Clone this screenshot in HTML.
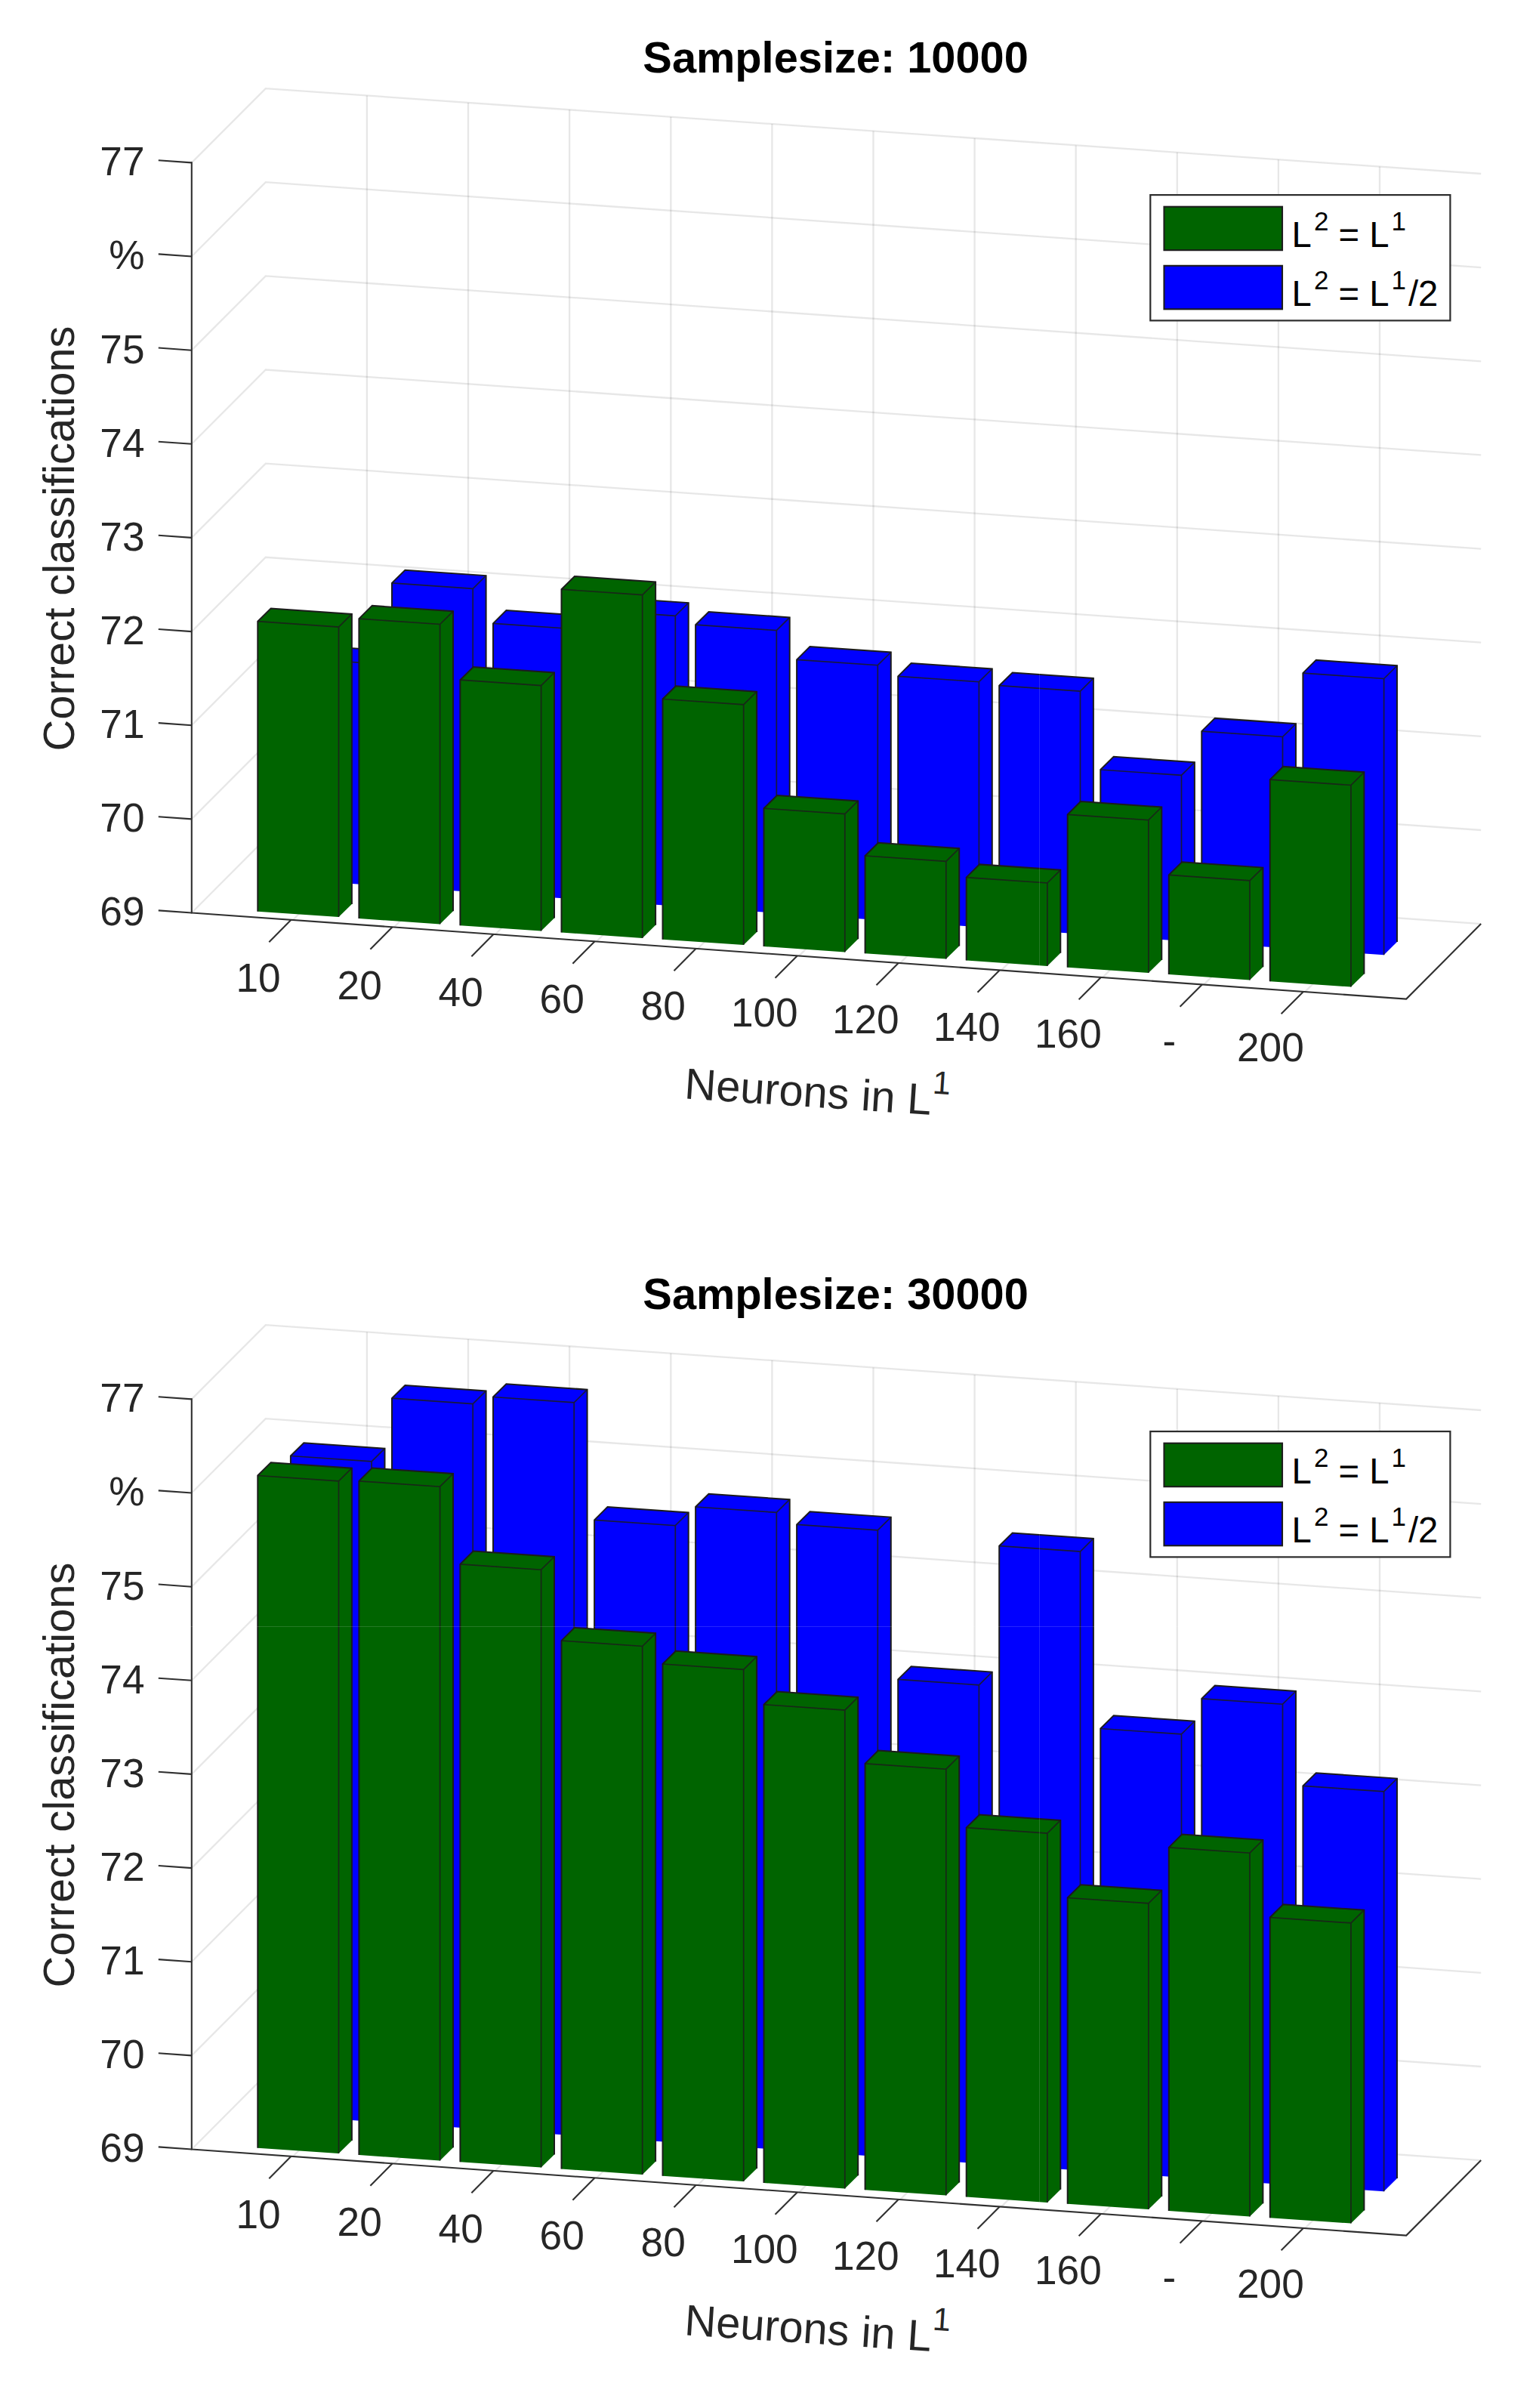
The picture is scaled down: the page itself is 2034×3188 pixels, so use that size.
<!DOCTYPE html>
<html lang="en"><head><meta charset="utf-8"><title>Samplesize bar charts</title>
<style>html,body{margin:0;padding:0;background:#fff}body{width:2034px;height:3188px;overflow:hidden}svg{display:block}text{font-family:"Liberation Sans",sans-serif}</style></head><body>
<svg width="2034" height="3188" viewBox="0 0 2034 3188">
<rect width="2034" height="3188" fill="#fff"/>
<g>
<g stroke="#262626" stroke-opacity="0.11" stroke-width="2.3" fill="none">
<polyline points="253.8,1208.5 351.8,1110.2 1961.2,1223.1"/>
<polyline points="253.8,1084.4 351.8,986.1 1961.2,1099"/>
<polyline points="253.8,960.2 351.8,861.9 1961.2,974.8"/>
<polyline points="253.8,836.1 351.8,737.8 1961.2,850.7"/>
<polyline points="253.8,711.9 351.8,613.6 1961.2,726.6"/>
<polyline points="253.8,587.8 351.8,489.5 1961.2,602.4"/>
<polyline points="253.8,463.7 351.8,365.4 1961.2,478.3"/>
<polyline points="253.8,339.5 351.8,241.2 1961.2,354.1"/>
<polyline points="253.8,215.4 351.8,117.1 1961.2,230"/>
<polyline points="387.8,1218 485.9,1119.6 485.9,126.5"/>
<polyline points="521.9,1227.5 620,1129 620,135.9"/>
<polyline points="655.9,1237 754.1,1138.4 754.1,145.3"/>
<polyline points="789.9,1246.5 888.3,1147.8 888.3,154.7"/>
<polyline points="924,1256 1022.4,1157.2 1022.4,164.1"/>
<polyline points="1058,1265.6 1156.5,1166.7 1156.5,173.5"/>
<polyline points="1192,1275.1 1290.6,1176.1 1290.6,182.9"/>
<polyline points="1326,1284.6 1424.7,1185.5 1424.7,192.4"/>
<polyline points="1460.1,1294.1 1558.8,1194.9 1558.8,201.8"/>
<polyline points="1594.1,1303.6 1692.9,1204.3 1692.9,211.2"/>
<polyline points="1728.1,1313.1 1827,1213.7 1827,220.6"/>
</g>
<g stroke="#1c1c1c" stroke-width="2.0" fill="none" stroke-linejoin="miter" stroke-linecap="butt">
<polygon stroke="none" fill="#0000ff" points="384.9,1164.4 384.9,870.9 402.3,853.7 509.5,861.1 509.5,1154.6 492.1,1171.8"/>
<path d="M384.9,1164.4 L384.9,870.9 L402.3,853.7 L509.5,861.1 L509.5,1154.6"/>
<path stroke-width="1.7" stroke-opacity="0.85" d="M384.9,870.9 L492.1,878.3 L492.1,1171.8 M492.1,878.3 L509.5,861.1"/>
<polygon stroke="none" fill="#0000ff" points="519,1173.7 519,771.9 536.4,754.7 643.6,762.1 643.6,1163.9 626.2,1181.1"/>
<path d="M519,1173.7 L519,771.9 L536.4,754.7 L643.6,762.1 L643.6,1163.9"/>
<path stroke-width="1.7" stroke-opacity="0.85" d="M519,771.9 L626.2,779.3 L626.2,1181.1 M626.2,779.3 L643.6,762.1"/>
<polygon stroke="none" fill="#0000ff" points="653,1182.9 653,825.3 670.4,808.1 777.6,815.5 777.6,1173.1 760.2,1190.3"/>
<path d="M653,1182.9 L653,825.3 L670.4,808.1 L777.6,815.5 L777.6,1173.1"/>
<path stroke-width="1.7" stroke-opacity="0.85" d="M653,825.3 L760.2,832.7 L760.2,1190.3 M760.2,832.7 L777.6,815.5"/>
<polygon stroke="none" fill="#0000ff" points="787.1,1192.2 787.1,807.9 804.5,790.7 911.7,798.1 911.7,1182.4 894.3,1199.6"/>
<path d="M787.1,1192.2 L787.1,807.9 L804.5,790.7 L911.7,798.1 L911.7,1182.4"/>
<path stroke-width="1.7" stroke-opacity="0.85" d="M787.1,807.9 L894.3,815.3 L894.3,1199.6 M894.3,815.3 L911.7,798.1"/>
<polygon stroke="none" fill="#0000ff" points="921.1,1201.4 921.1,827.2 938.5,810 1045.7,817.4 1045.7,1191.6 1028.3,1208.8"/>
<path d="M921.1,1201.4 L921.1,827.2 L938.5,810 L1045.7,817.4 L1045.7,1191.6"/>
<path stroke-width="1.7" stroke-opacity="0.85" d="M921.1,827.2 L1028.3,834.6 L1028.3,1208.8 M1028.3,834.6 L1045.7,817.4"/>
<polygon stroke="none" fill="#0000ff" points="1055.1,1210.7 1055.1,873.3 1072.5,856.1 1179.8,863.5 1179.8,1200.9 1162.3,1218.1"/>
<path d="M1055.1,1210.7 L1055.1,873.3 L1072.5,856.1 L1179.8,863.5 L1179.8,1200.9"/>
<path stroke-width="1.7" stroke-opacity="0.85" d="M1055.1,873.3 L1162.3,880.7 L1162.3,1218.1 M1162.3,880.7 L1179.8,863.5"/>
<polygon stroke="none" fill="#0000ff" points="1189.2,1219.9 1189.2,895.3 1206.6,878.1 1313.8,885.5 1313.8,1210.1 1296.4,1227.3"/>
<path d="M1189.2,1219.9 L1189.2,895.3 L1206.6,878.1 L1313.8,885.5 L1313.8,1210.1"/>
<path stroke-width="1.7" stroke-opacity="0.85" d="M1189.2,895.3 L1296.4,902.7 L1296.4,1227.3 M1296.4,902.7 L1313.8,885.5"/>
<polygon stroke="none" fill="#0000ff" points="1323.2,1229.2 1323.2,907.7 1340.7,890.5 1447.9,897.9 1447.9,1219.4 1430.5,1236.6"/>
<path d="M1323.2,1229.2 L1323.2,907.7 L1340.7,890.5 L1447.9,897.9 L1447.9,1219.4"/>
<path stroke-width="1.7" stroke-opacity="0.85" d="M1323.2,907.7 L1430.5,915.1 L1430.5,1236.6 M1430.5,915.1 L1447.9,897.9"/>
<polygon stroke="none" fill="#0000ff" points="1457.3,1238.4 1457.3,1019 1474.7,1001.8 1581.9,1009.2 1581.9,1228.6 1564.5,1245.8"/>
<path d="M1457.3,1238.4 L1457.3,1019 L1474.7,1001.8 L1581.9,1009.2 L1581.9,1228.6"/>
<path stroke-width="1.7" stroke-opacity="0.85" d="M1457.3,1019 L1564.5,1026.4 L1564.5,1245.8 M1564.5,1026.4 L1581.9,1009.2"/>
<polygon stroke="none" fill="#0000ff" points="1591.3,1247.7 1591.3,968.1 1608.8,950.9 1716,958.3 1716,1237.9 1698.5,1255.1"/>
<path d="M1591.3,1247.7 L1591.3,968.1 L1608.8,950.9 L1716,958.3 L1716,1237.9"/>
<path stroke-width="1.7" stroke-opacity="0.85" d="M1591.3,968.1 L1698.5,975.5 L1698.5,1255.1 M1698.5,975.5 L1716,958.3"/>
<polygon stroke="none" fill="#0000ff" points="1725.4,1256.9 1725.4,891.1 1742.8,873.9 1850,881.3 1850,1247.1 1832.6,1264.3"/>
<path d="M1725.4,1256.9 L1725.4,891.1 L1742.8,873.9 L1850,881.3 L1850,1247.1"/>
<path stroke-width="1.7" stroke-opacity="0.85" d="M1725.4,891.1 L1832.6,898.5 L1832.6,1264.3 M1832.6,898.5 L1850,881.3"/>
<polygon stroke="none" fill="#006400" points="341.3,1206.7 341.3,822.7 358.7,805.5 465.9,812.9 465.9,1196.9 448.5,1214.1"/>
<path d="M341.3,1206.7 L341.3,822.7 L358.7,805.5 L465.9,812.9 L465.9,1196.9"/>
<path stroke-width="1.7" stroke-opacity="0.85" d="M341.3,822.7 L448.5,830.1 L448.5,1214.1 M448.5,830.1 L465.9,812.9"/>
<polygon stroke="none" fill="#006400" points="475.4,1216 475.4,819.1 492.8,801.9 600,809.3 600,1206.2 582.6,1223.4"/>
<path d="M475.4,1216 L475.4,819.1 L492.8,801.9 L600,809.3 L600,1206.2"/>
<path stroke-width="1.7" stroke-opacity="0.85" d="M475.4,819.1 L582.6,826.5 L582.6,1223.4 M582.6,826.5 L600,809.3"/>
<polygon stroke="none" fill="#006400" points="609.4,1225.2 609.4,900.2 626.8,883 734,890.4 734,1215.4 716.6,1232.6"/>
<path d="M609.4,1225.2 L609.4,900.2 L626.8,883 L734,890.4 L734,1215.4"/>
<path stroke-width="1.7" stroke-opacity="0.85" d="M609.4,900.2 L716.6,907.6 L716.6,1232.6 M716.6,907.6 L734,890.4"/>
<polygon stroke="none" fill="#006400" points="743.5,1234.5 743.5,780.2 760.9,763 868.1,770.4 868.1,1224.7 850.7,1241.9"/>
<path d="M743.5,1234.5 L743.5,780.2 L760.9,763 L868.1,770.4 L868.1,1224.7"/>
<path stroke-width="1.7" stroke-opacity="0.85" d="M743.5,780.2 L850.7,787.6 L850.7,1241.9 M850.7,787.6 L868.1,770.4"/>
<polygon stroke="none" fill="#006400" points="877.5,1243.7 877.5,925.5 894.9,908.3 1002.1,915.7 1002.1,1233.9 984.7,1251.1"/>
<path d="M877.5,1243.7 L877.5,925.5 L894.9,908.3 L1002.1,915.7 L1002.1,1233.9"/>
<path stroke-width="1.7" stroke-opacity="0.85" d="M877.5,925.5 L984.7,932.9 L984.7,1251.1 M984.7,932.9 L1002.1,915.7"/>
<polygon stroke="none" fill="#006400" points="1011.5,1253 1011.5,1070.2 1029,1053 1136.2,1060.4 1136.2,1243.2 1118.8,1260.4"/>
<path d="M1011.5,1253 L1011.5,1070.2 L1029,1053 L1136.2,1060.4 L1136.2,1243.2"/>
<path stroke-width="1.7" stroke-opacity="0.85" d="M1011.5,1070.2 L1118.8,1077.6 L1118.8,1260.4 M1118.8,1077.6 L1136.2,1060.4"/>
<polygon stroke="none" fill="#006400" points="1145.6,1262.2 1145.6,1133 1163,1115.8 1270.2,1123.2 1270.2,1252.4 1252.8,1269.6"/>
<path d="M1145.6,1262.2 L1145.6,1133 L1163,1115.8 L1270.2,1123.2 L1270.2,1252.4"/>
<path stroke-width="1.7" stroke-opacity="0.85" d="M1145.6,1133 L1252.8,1140.4 L1252.8,1269.6 M1252.8,1140.4 L1270.2,1123.2"/>
<polygon stroke="none" fill="#006400" points="1279.7,1271.5 1279.7,1161.6 1297.1,1144.4 1404.3,1151.8 1404.3,1261.7 1386.9,1278.9"/>
<path d="M1279.7,1271.5 L1279.7,1161.6 L1297.1,1144.4 L1404.3,1151.8 L1404.3,1261.7"/>
<path stroke-width="1.7" stroke-opacity="0.85" d="M1279.7,1161.6 L1386.9,1169 L1386.9,1278.9 M1386.9,1169 L1404.3,1151.8"/>
<polygon stroke="none" fill="#006400" points="1413.7,1280.7 1413.7,1078.3 1431.1,1061.1 1538.3,1068.5 1538.3,1270.9 1520.9,1288.1"/>
<path d="M1413.7,1280.7 L1413.7,1078.3 L1431.1,1061.1 L1538.3,1068.5 L1538.3,1270.9"/>
<path stroke-width="1.7" stroke-opacity="0.85" d="M1413.7,1078.3 L1520.9,1085.7 L1520.9,1288.1 M1520.9,1085.7 L1538.3,1068.5"/>
<polygon stroke="none" fill="#006400" points="1547.8,1290 1547.8,1158.4 1565.2,1141.2 1672.4,1148.6 1672.4,1280.2 1655,1297.4"/>
<path d="M1547.8,1290 L1547.8,1158.4 L1565.2,1141.2 L1672.4,1148.6 L1672.4,1280.2"/>
<path stroke-width="1.7" stroke-opacity="0.85" d="M1547.8,1158.4 L1655,1165.8 L1655,1297.4 M1655,1165.8 L1672.4,1148.6"/>
<polygon stroke="none" fill="#006400" points="1681.8,1299.2 1681.8,1032.1 1699.2,1014.9 1806.4,1022.3 1806.4,1289.4 1789,1306.6"/>
<path d="M1681.8,1299.2 L1681.8,1032.1 L1699.2,1014.9 L1806.4,1022.3 L1806.4,1289.4"/>
<path stroke-width="1.7" stroke-opacity="0.85" d="M1681.8,1032.1 L1789,1039.5 L1789,1306.6 M1789,1039.5 L1806.4,1022.3"/>
</g>
<g stroke="#303030" stroke-width="2.1" fill="none" stroke-linecap="butt">
<polyline points="253.8,214.2 253.8,1208.5 1862.2,1322.6 1961.2,1223.1"/>
<line x1="253.8" y1="1208.5" x2="209.8" y2="1205.4"/>
<line x1="253.8" y1="1084.4" x2="209.8" y2="1081.2"/>
<line x1="253.8" y1="960.2" x2="209.8" y2="957.1"/>
<line x1="253.8" y1="836.1" x2="209.8" y2="833"/>
<line x1="253.8" y1="711.9" x2="209.8" y2="708.8"/>
<line x1="253.8" y1="587.8" x2="209.8" y2="584.7"/>
<line x1="253.8" y1="463.7" x2="209.8" y2="460.5"/>
<line x1="253.8" y1="339.5" x2="209.8" y2="336.4"/>
<line x1="253.8" y1="215.4" x2="209.8" y2="212.3"/>
<line x1="385.5" y1="1217.8" x2="356.3" y2="1247.2"/>
<line x1="519.6" y1="1227.3" x2="490.4" y2="1256.7"/>
<line x1="653.6" y1="1236.8" x2="624.4" y2="1266.2"/>
<line x1="787.6" y1="1246.3" x2="758.4" y2="1275.7"/>
<line x1="921.7" y1="1255.8" x2="892.5" y2="1285.2"/>
<line x1="1055.7" y1="1265.4" x2="1026.5" y2="1294.8"/>
<line x1="1189.7" y1="1274.9" x2="1160.5" y2="1304.3"/>
<line x1="1323.7" y1="1284.4" x2="1294.5" y2="1313.8"/>
<line x1="1457.8" y1="1293.9" x2="1428.6" y2="1323.3"/>
<line x1="1591.8" y1="1303.4" x2="1562.6" y2="1332.8"/>
<line x1="1725.8" y1="1312.9" x2="1696.6" y2="1342.3"/>
</g>
<g fill="#262626" font-size="53.2">
<text x="191.5" y="1225.4" text-anchor="end">69</text>
<text x="191.5" y="1101.3" text-anchor="end">70</text>
<text x="191.5" y="977.1" text-anchor="end">71</text>
<text x="191.5" y="853" text-anchor="end">72</text>
<text x="191.5" y="728.8" text-anchor="end">73</text>
<text x="191.5" y="604.7" text-anchor="end">74</text>
<text x="191.5" y="480.6" text-anchor="end">75</text>
<text x="191.5" y="356.4" text-anchor="end">%</text>
<text x="191.5" y="232.3" text-anchor="end">77</text>
<text x="342.1" y="1313.4" text-anchor="middle">10</text>
<text x="476.2" y="1322.6" text-anchor="middle">20</text>
<text x="610.2" y="1331.7" text-anchor="middle">40</text>
<text x="744.2" y="1340.9" text-anchor="middle">60</text>
<text x="878.2" y="1350.1" text-anchor="middle">80</text>
<text x="1012.3" y="1359.2" text-anchor="middle">100</text>
<text x="1146.3" y="1368.4" text-anchor="middle">120</text>
<text x="1280.3" y="1377.6" text-anchor="middle">140</text>
<text x="1414.4" y="1386.8" text-anchor="middle">160</text>
<text x="1548.4" y="1395.9" text-anchor="middle">-</text>
<text x="1682.4" y="1405.1" text-anchor="middle">200</text>
</g>
<text x="1106.6" y="96.1" text-anchor="middle" font-size="57.75" font-weight="bold" fill="#000">Samplesize: 10000</text>
<text transform="translate(98.3,713) rotate(-90)" text-anchor="middle" font-size="57.9" fill="#262626">Correct classifications</text>
<text transform="translate(905.6,1454.3) rotate(3.8)" font-size="57.75" fill="#262626">Neurons in L<tspan dy="-28.5" font-size="43">1</tspan></text>
<rect x="1523.3" y="258.1" width="397.1" height="166.3" fill="#fff" stroke="#2c2c2c" stroke-width="2.2"/>
<rect x="1541.5" y="273.7" width="156.5" height="57.5" fill="#006400" stroke="#1c1c1c" stroke-width="2.1"/>
<rect x="1541.5" y="351.8" width="156.5" height="57.5" fill="#0000ff" stroke="#1c1c1c" stroke-width="2.1"/>
<g fill="#000" font-size="47.25">
<text x="1710.6" y="326.8">L<tspan dy="-21.5" dx="3" font-size="35">2</tspan><tspan dy="21.5"> = L</tspan><tspan dy="-21.5" dx="3" font-size="35">1</tspan></text>
<text x="1710.6" y="404.9">L<tspan dy="-21.5" dx="3" font-size="35">2</tspan><tspan dy="21.5"> = L</tspan><tspan dy="-21.5" dx="3" font-size="35">1</tspan><tspan dy="21.5" dx="3">/2</tspan></text>
</g>
</g>
<g transform="translate(0,1637)">
<g stroke="#262626" stroke-opacity="0.11" stroke-width="2.3" fill="none">
<polyline points="253.8,1208.5 351.8,1110.2 1961.2,1223.1"/>
<polyline points="253.8,1084.4 351.8,986.1 1961.2,1099"/>
<polyline points="253.8,960.2 351.8,861.9 1961.2,974.8"/>
<polyline points="253.8,836.1 351.8,737.8 1961.2,850.7"/>
<polyline points="253.8,711.9 351.8,613.6 1961.2,726.6"/>
<polyline points="253.8,587.8 351.8,489.5 1961.2,602.4"/>
<polyline points="253.8,463.7 351.8,365.4 1961.2,478.3"/>
<polyline points="253.8,339.5 351.8,241.2 1961.2,354.1"/>
<polyline points="253.8,215.4 351.8,117.1 1961.2,230"/>
<polyline points="387.8,1218 485.9,1119.6 485.9,126.5"/>
<polyline points="521.9,1227.5 620,1129 620,135.9"/>
<polyline points="655.9,1237 754.1,1138.4 754.1,145.3"/>
<polyline points="789.9,1246.5 888.3,1147.8 888.3,154.7"/>
<polyline points="924,1256 1022.4,1157.2 1022.4,164.1"/>
<polyline points="1058,1265.6 1156.5,1166.7 1156.5,173.5"/>
<polyline points="1192,1275.1 1290.6,1176.1 1290.6,182.9"/>
<polyline points="1326,1284.6 1424.7,1185.5 1424.7,192.4"/>
<polyline points="1460.1,1294.1 1558.8,1194.9 1558.8,201.8"/>
<polyline points="1594.1,1303.6 1692.9,1204.3 1692.9,211.2"/>
<polyline points="1728.1,1313.1 1827,1213.7 1827,220.6"/>
</g>
<g stroke="#1c1c1c" stroke-width="2.0" fill="none" stroke-linejoin="miter" stroke-linecap="butt">
<polygon stroke="none" fill="#0000ff" points="384.9,1164.4 384.9,290.5 402.3,273.3 509.5,280.7 509.5,1154.6 492.1,1171.8"/>
<path d="M384.9,1164.4 L384.9,290.5 L402.3,273.3 L509.5,280.7 L509.5,1154.6"/>
<path stroke-width="1.7" stroke-opacity="0.85" d="M384.9,290.5 L492.1,297.9 L492.1,1171.8 M492.1,297.9 L509.5,280.7"/>
<polygon stroke="none" fill="#0000ff" points="519,1173.7 519,214.2 536.4,197 643.6,204.4 643.6,1163.9 626.2,1181.1"/>
<path d="M519,1173.7 L519,214.2 L536.4,197 L643.6,204.4 L643.6,1163.9"/>
<path stroke-width="1.7" stroke-opacity="0.85" d="M519,214.2 L626.2,221.6 L626.2,1181.1 M626.2,221.6 L643.6,204.4"/>
<polygon stroke="none" fill="#0000ff" points="653,1182.9 653,212.5 670.4,195.3 777.6,202.7 777.6,1173.1 760.2,1190.3"/>
<path d="M653,1182.9 L653,212.5 L670.4,195.3 L777.6,202.7 L777.6,1173.1"/>
<path stroke-width="1.7" stroke-opacity="0.85" d="M653,212.5 L760.2,219.9 L760.2,1190.3 M760.2,219.9 L777.6,202.7"/>
<polygon stroke="none" fill="#0000ff" points="787.1,1192.2 787.1,375.3 804.5,358.1 911.7,365.5 911.7,1182.4 894.3,1199.6"/>
<path d="M787.1,1192.2 L787.1,375.3 L804.5,358.1 L911.7,365.5 L911.7,1182.4"/>
<path stroke-width="1.7" stroke-opacity="0.85" d="M787.1,375.3 L894.3,382.7 L894.3,1199.6 M894.3,382.7 L911.7,365.5"/>
<polygon stroke="none" fill="#0000ff" points="921.1,1201.4 921.1,358 938.5,340.8 1045.7,348.2 1045.7,1191.6 1028.3,1208.8"/>
<path d="M921.1,1201.4 L921.1,358 L938.5,340.8 L1045.7,348.2 L1045.7,1191.6"/>
<path stroke-width="1.7" stroke-opacity="0.85" d="M921.1,358 L1028.3,365.4 L1028.3,1208.8 M1028.3,365.4 L1045.7,348.2"/>
<polygon stroke="none" fill="#0000ff" points="1055.1,1210.7 1055.1,381.4 1072.5,364.2 1179.8,371.6 1179.8,1200.9 1162.3,1218.1"/>
<path d="M1055.1,1210.7 L1055.1,381.4 L1072.5,364.2 L1179.8,371.6 L1179.8,1200.9"/>
<path stroke-width="1.7" stroke-opacity="0.85" d="M1055.1,381.4 L1162.3,388.8 L1162.3,1218.1 M1162.3,388.8 L1179.8,371.6"/>
<polygon stroke="none" fill="#0000ff" points="1189.2,1219.9 1189.2,586.4 1206.6,569.2 1313.8,576.6 1313.8,1210.1 1296.4,1227.3"/>
<path d="M1189.2,1219.9 L1189.2,586.4 L1206.6,569.2 L1313.8,576.6 L1313.8,1210.1"/>
<path stroke-width="1.7" stroke-opacity="0.85" d="M1189.2,586.4 L1296.4,593.8 L1296.4,1227.3 M1296.4,593.8 L1313.8,576.6"/>
<polygon stroke="none" fill="#0000ff" points="1323.2,1229.2 1323.2,409.7 1340.7,392.5 1447.9,399.9 1447.9,1219.4 1430.5,1236.6"/>
<path d="M1323.2,1229.2 L1323.2,409.7 L1340.7,392.5 L1447.9,399.9 L1447.9,1219.4"/>
<path stroke-width="1.7" stroke-opacity="0.85" d="M1323.2,409.7 L1430.5,417.1 L1430.5,1236.6 M1430.5,417.1 L1447.9,399.9"/>
<polygon stroke="none" fill="#0000ff" points="1457.3,1238.4 1457.3,651.5 1474.7,634.3 1581.9,641.7 1581.9,1228.6 1564.5,1245.8"/>
<path d="M1457.3,1238.4 L1457.3,651.5 L1474.7,634.3 L1581.9,641.7 L1581.9,1228.6"/>
<path stroke-width="1.7" stroke-opacity="0.85" d="M1457.3,651.5 L1564.5,658.9 L1564.5,1245.8 M1564.5,658.9 L1581.9,641.7"/>
<polygon stroke="none" fill="#0000ff" points="1591.3,1247.7 1591.3,611.8 1608.8,594.6 1716,602 1716,1237.9 1698.5,1255.1"/>
<path d="M1591.3,1247.7 L1591.3,611.8 L1608.8,594.6 L1716,602 L1716,1237.9"/>
<path stroke-width="1.7" stroke-opacity="0.85" d="M1591.3,611.8 L1698.5,619.2 L1698.5,1255.1 M1698.5,619.2 L1716,602"/>
<polygon stroke="none" fill="#0000ff" points="1725.4,1256.9 1725.4,727.4 1742.8,710.2 1850,717.6 1850,1247.1 1832.6,1264.3"/>
<path d="M1725.4,1256.9 L1725.4,727.4 L1742.8,710.2 L1850,717.6 L1850,1247.1"/>
<path stroke-width="1.7" stroke-opacity="0.85" d="M1725.4,727.4 L1832.6,734.8 L1832.6,1264.3 M1832.6,734.8 L1850,717.6"/>
<polygon stroke="none" fill="#006400" points="341.3,1206.7 341.3,316.5 358.7,299.3 465.9,306.7 465.9,1196.9 448.5,1214.1"/>
<path d="M341.3,1206.7 L341.3,316.5 L358.7,299.3 L465.9,306.7 L465.9,1196.9"/>
<path stroke-width="1.7" stroke-opacity="0.85" d="M341.3,316.5 L448.5,323.9 L448.5,1214.1 M448.5,323.9 L465.9,306.7"/>
<polygon stroke="none" fill="#006400" points="475.4,1216 475.4,323.8 492.8,306.6 600,314 600,1206.2 582.6,1223.4"/>
<path d="M475.4,1216 L475.4,323.8 L492.8,306.6 L600,314 L600,1206.2"/>
<path stroke-width="1.7" stroke-opacity="0.85" d="M475.4,323.8 L582.6,331.2 L582.6,1223.4 M582.6,331.2 L600,314"/>
<polygon stroke="none" fill="#006400" points="609.4,1225.2 609.4,433.8 626.8,416.6 734,424 734,1215.4 716.6,1232.6"/>
<path d="M609.4,1225.2 L609.4,433.8 L626.8,416.6 L734,424 L734,1215.4"/>
<path stroke-width="1.7" stroke-opacity="0.85" d="M609.4,433.8 L716.6,441.2 L716.6,1232.6 M716.6,441.2 L734,424"/>
<polygon stroke="none" fill="#006400" points="743.5,1234.5 743.5,535.1 760.9,517.9 868.1,525.3 868.1,1224.7 850.7,1241.9"/>
<path d="M743.5,1234.5 L743.5,535.1 L760.9,517.9 L868.1,525.3 L868.1,1224.7"/>
<path stroke-width="1.7" stroke-opacity="0.85" d="M743.5,535.1 L850.7,542.5 L850.7,1241.9 M850.7,542.5 L868.1,525.3"/>
<polygon stroke="none" fill="#006400" points="877.5,1243.7 877.5,566 894.9,548.8 1002.1,556.2 1002.1,1233.9 984.7,1251.1"/>
<path d="M877.5,1243.7 L877.5,566 L894.9,548.8 L1002.1,556.2 L1002.1,1233.9"/>
<path stroke-width="1.7" stroke-opacity="0.85" d="M877.5,566 L984.7,573.4 L984.7,1251.1 M984.7,573.4 L1002.1,556.2"/>
<polygon stroke="none" fill="#006400" points="1011.5,1253 1011.5,619.7 1029,602.5 1136.2,609.9 1136.2,1243.2 1118.8,1260.4"/>
<path d="M1011.5,1253 L1011.5,619.7 L1029,602.5 L1136.2,609.9 L1136.2,1243.2"/>
<path stroke-width="1.7" stroke-opacity="0.85" d="M1011.5,619.7 L1118.8,627.1 L1118.8,1260.4 M1118.8,627.1 L1136.2,609.9"/>
<polygon stroke="none" fill="#006400" points="1145.6,1262.2 1145.6,697.8 1163,680.6 1270.2,688 1270.2,1252.4 1252.8,1269.6"/>
<path d="M1145.6,1262.2 L1145.6,697.8 L1163,680.6 L1270.2,688 L1270.2,1252.4"/>
<path stroke-width="1.7" stroke-opacity="0.85" d="M1145.6,697.8 L1252.8,705.2 L1252.8,1269.6 M1252.8,705.2 L1270.2,688"/>
<polygon stroke="none" fill="#006400" points="1279.7,1271.5 1279.7,782.7 1297.1,765.5 1404.3,772.9 1404.3,1261.7 1386.9,1278.9"/>
<path d="M1279.7,1271.5 L1279.7,782.7 L1297.1,765.5 L1404.3,772.9 L1404.3,1261.7"/>
<path stroke-width="1.7" stroke-opacity="0.85" d="M1279.7,782.7 L1386.9,790.1 L1386.9,1278.9 M1386.9,790.1 L1404.3,772.9"/>
<polygon stroke="none" fill="#006400" points="1413.7,1280.7 1413.7,875.5 1431.1,858.3 1538.3,865.7 1538.3,1270.9 1520.9,1288.1"/>
<path d="M1413.7,1280.7 L1413.7,875.5 L1431.1,858.3 L1538.3,865.7 L1538.3,1270.9"/>
<path stroke-width="1.7" stroke-opacity="0.85" d="M1413.7,875.5 L1520.9,882.9 L1520.9,1288.1 M1520.9,882.9 L1538.3,865.7"/>
<polygon stroke="none" fill="#006400" points="1547.8,1290 1547.8,808.8 1565.2,791.6 1672.4,799 1672.4,1280.2 1655,1297.4"/>
<path d="M1547.8,1290 L1547.8,808.8 L1565.2,791.6 L1672.4,799 L1672.4,1280.2"/>
<path stroke-width="1.7" stroke-opacity="0.85" d="M1547.8,808.8 L1655,816.2 L1655,1297.4 M1655,816.2 L1672.4,799"/>
<polygon stroke="none" fill="#006400" points="1681.8,1299.2 1681.8,901.5 1699.2,884.3 1806.4,891.7 1806.4,1289.4 1789,1306.6"/>
<path d="M1681.8,1299.2 L1681.8,901.5 L1699.2,884.3 L1806.4,891.7 L1806.4,1289.4"/>
<path stroke-width="1.7" stroke-opacity="0.85" d="M1681.8,901.5 L1789,908.9 L1789,1306.6 M1789,908.9 L1806.4,891.7"/>
</g>
<g stroke="#303030" stroke-width="2.1" fill="none" stroke-linecap="butt">
<polyline points="253.8,214.2 253.8,1208.5 1862.2,1322.6 1961.2,1223.1"/>
<line x1="253.8" y1="1208.5" x2="209.8" y2="1205.4"/>
<line x1="253.8" y1="1084.4" x2="209.8" y2="1081.2"/>
<line x1="253.8" y1="960.2" x2="209.8" y2="957.1"/>
<line x1="253.8" y1="836.1" x2="209.8" y2="833"/>
<line x1="253.8" y1="711.9" x2="209.8" y2="708.8"/>
<line x1="253.8" y1="587.8" x2="209.8" y2="584.7"/>
<line x1="253.8" y1="463.7" x2="209.8" y2="460.5"/>
<line x1="253.8" y1="339.5" x2="209.8" y2="336.4"/>
<line x1="253.8" y1="215.4" x2="209.8" y2="212.3"/>
<line x1="385.5" y1="1217.8" x2="356.3" y2="1247.2"/>
<line x1="519.6" y1="1227.3" x2="490.4" y2="1256.7"/>
<line x1="653.6" y1="1236.8" x2="624.4" y2="1266.2"/>
<line x1="787.6" y1="1246.3" x2="758.4" y2="1275.7"/>
<line x1="921.7" y1="1255.8" x2="892.5" y2="1285.2"/>
<line x1="1055.7" y1="1265.4" x2="1026.5" y2="1294.8"/>
<line x1="1189.7" y1="1274.9" x2="1160.5" y2="1304.3"/>
<line x1="1323.7" y1="1284.4" x2="1294.5" y2="1313.8"/>
<line x1="1457.8" y1="1293.9" x2="1428.6" y2="1323.3"/>
<line x1="1591.8" y1="1303.4" x2="1562.6" y2="1332.8"/>
<line x1="1725.8" y1="1312.9" x2="1696.6" y2="1342.3"/>
</g>
<g fill="#262626" font-size="53.2">
<text x="191.5" y="1225.4" text-anchor="end">69</text>
<text x="191.5" y="1101.3" text-anchor="end">70</text>
<text x="191.5" y="977.1" text-anchor="end">71</text>
<text x="191.5" y="853" text-anchor="end">72</text>
<text x="191.5" y="728.8" text-anchor="end">73</text>
<text x="191.5" y="604.7" text-anchor="end">74</text>
<text x="191.5" y="480.6" text-anchor="end">75</text>
<text x="191.5" y="356.4" text-anchor="end">%</text>
<text x="191.5" y="232.3" text-anchor="end">77</text>
<text x="342.1" y="1313.4" text-anchor="middle">10</text>
<text x="476.2" y="1322.6" text-anchor="middle">20</text>
<text x="610.2" y="1331.7" text-anchor="middle">40</text>
<text x="744.2" y="1340.9" text-anchor="middle">60</text>
<text x="878.2" y="1350.1" text-anchor="middle">80</text>
<text x="1012.3" y="1359.2" text-anchor="middle">100</text>
<text x="1146.3" y="1368.4" text-anchor="middle">120</text>
<text x="1280.3" y="1377.6" text-anchor="middle">140</text>
<text x="1414.4" y="1386.8" text-anchor="middle">160</text>
<text x="1548.4" y="1395.9" text-anchor="middle">-</text>
<text x="1682.4" y="1405.1" text-anchor="middle">200</text>
</g>
<text x="1106.6" y="96.1" text-anchor="middle" font-size="57.75" font-weight="bold" fill="#000">Samplesize: 30000</text>
<text transform="translate(98.3,713) rotate(-90)" text-anchor="middle" font-size="57.9" fill="#262626">Correct classifications</text>
<text transform="translate(905.6,1454.3) rotate(3.8)" font-size="57.75" fill="#262626">Neurons in L<tspan dy="-28.5" font-size="43">1</tspan></text>
<rect x="1523.3" y="258.1" width="397.1" height="166.3" fill="#fff" stroke="#2c2c2c" stroke-width="2.2"/>
<rect x="1541.5" y="273.7" width="156.5" height="57.5" fill="#006400" stroke="#1c1c1c" stroke-width="2.1"/>
<rect x="1541.5" y="351.8" width="156.5" height="57.5" fill="#0000ff" stroke="#1c1c1c" stroke-width="2.1"/>
<g fill="#000" font-size="47.25">
<text x="1710.6" y="326.8">L<tspan dy="-21.5" dx="3" font-size="35">2</tspan><tspan dy="21.5"> = L</tspan><tspan dy="-21.5" dx="3" font-size="35">1</tspan></text>
<text x="1710.6" y="404.9">L<tspan dy="-21.5" dx="3" font-size="35">2</tspan><tspan dy="21.5"> = L</tspan><tspan dy="-21.5" dx="3" font-size="35">1</tspan><tspan dy="21.5" dx="3">/2</tspan></text>
</g>
</g>
<g stroke="#fff" stroke-opacity="0.14" stroke-width="1"><line x1="1376.5" y1="0" x2="1376.5" y2="3188"/><line x1="0" y1="2153.5" x2="2034" y2="2153.5"/></g>
</svg></body></html>
